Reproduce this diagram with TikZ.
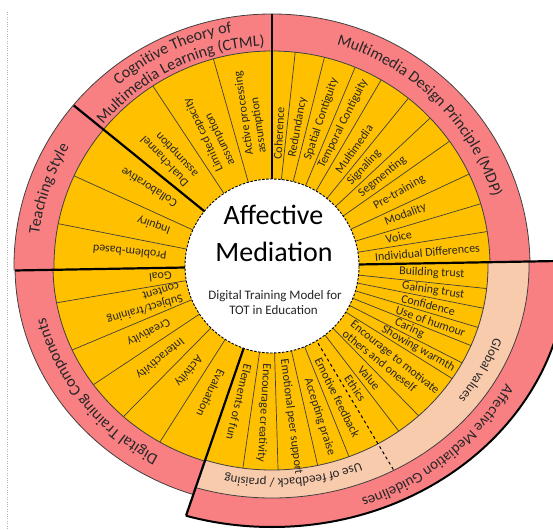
\documentclass[tikz,border=0pt]{standalone}
\usepackage{fontspec}
\setmainfont{Carlito}
\usetikzlibrary{decorations.text}

\definecolor{amgold}{HTML}{FFC000}
\definecolor{amrose}{HTML}{F98082}
\definecolor{ampeach}{HTML}{F8CBAD}
\definecolor{amedge}{HTML}{404040}
\definecolor{amink}{HTML}{262626}

\begin{document}
\begin{tikzpicture}[x=1pt,y=1pt]

\tikzset{
    seg/.style={
        rotate=#1,
        font=\fontsize{12}{13}\selectfont,
        text=amink,
        inner sep=0pt,
        align=left,
    },
    divider/.style={draw=amedge, line width=0.7pt},
    rim/.style={draw=amedge, line width=0.8pt},
    split/.style={draw=black, line width=2.2pt},
    arc label/.style args={#1:#2}{
        decorate,
        decoration={
            text along path,
            text align=center,
            text color=amink,
            text={|\fontsize{#1}{#1}\selectfont|#2}
        }
    },
}

\useasboundingbox (-272,-263) rectangle (281,266);
\clip (-272,-263) rectangle (281,266);

\draw[gray!60, dotted] (-265,254) -- (-265,-263);

% upper half: CTML, teaching style, MDP
\begin{scope}
\clip (0,0) -- (1:600) -- (90:600) -- (181:600) -- cycle;
\filldraw[fill=amrose, rim] (0,0) ellipse [x radius=258, y radius=252];
\fill[amgold] (0,0) ellipse [x radius=218, y radius=215];
\begin{scope}
\clip (0,0) ellipse [x radius=218, y radius=215];
\foreach \a in {83.8,75.9,67.3,59.6,50.9,43.1,35.1,25,16.6,9.1,105.8,123.5,155.5,168.8}
    \draw[divider] (0,0) -- (\a:300);
\end{scope}
\draw[rim] (0,0) ellipse [x radius=218, y radius=215];
\end{scope}

% lower left: digital training components
\begin{scope}
\clip (0,0) -- (181:600) -- (251:600) -- cycle;
\filldraw[fill=amrose, rim] (0,0) ellipse [x radius=257, y radius=240];
\fill[amgold] (0,0) ellipse [x radius=219, y radius=205];
\begin{scope}
\clip (0,0) ellipse [x radius=219, y radius=205];
\foreach \a in {189.7,202.8,213.6,225.4,237.5}
    \draw[divider] (0,0) -- (\a:300);
\end{scope}
\draw[rim] (0,0) ellipse [x radius=219, y radius=205];
\end{scope}

% lower right: guidelines
\begin{scope}
\clip (0,0) -- (251:600) -- (300:600) -- (361:600) -- cycle;
\filldraw[fill=amrose, draw=black, line width=2pt] (0,0) ellipse [x radius=295, y radius=261];
\filldraw[fill=ampeach, rim] (0,0) ellipse [x radius=257, y radius=232];
\fill[amgold] (0,0) ellipse [x radius=216, y radius=204];
\begin{scope}
\clip (0,0) ellipse [x radius=216, y radius=204];
\foreach \a in {354,348.7,343.4,338.2,333,328,314.4,307.5,292,282.9,271.7,261.8}
    \draw[divider] (0,0) -- (\a:300);
\end{scope}
\draw[rim] (0,0) ellipse [x radius=216, y radius=204];
\end{scope}

\draw[split] (0,0) -- (1:300);
\draw[split] (0,0) -- (181:257);
\draw[split] (0,0) -- (90:252);
\draw[split] (0,0) -- (141:255);
\draw[split] (0,0) -- (251:264);
\draw[black, line width=1pt, dashed] (0,0) -- (300.8:238);

\node (hub) [circle, fill=white, draw=black, line width=0.9pt, dash pattern=on 2.5pt off 1.5pt,
    minimum size=174pt, inner sep=0pt] at (0,0) {};
\node (title-a) [anchor=base, font=\fontsize{28}{28}\selectfont, text=black] at (1.5,41) {Affective};
\node (title-b) [anchor=base, font=\fontsize{28}{28}\selectfont, text=black] at (2,4) {Mediation};
\node (sub-a) [anchor=base, font=\fontsize{13}{13}\selectfont, text=amink] at (3,-34) {Digital Training Model for};
\node (sub-b) [anchor=base, font=\fontsize{13}{13}\selectfont, text=amink] at (1.5,-49) {TOT in Education};

% CTML
\node (act) [seg=98] at (98:155) {Active processing\\assumption};
\node (lim) [seg=115] at (115:148) {Limited capacity\\assumption};
\node (dual) [seg=133] at (133:150) {Dual-channel\\assumption};
% teaching style
\node (coll) [seg=147.5] at (147.5:146) {Collaborative};
\node (inq) [seg=161] at (161:125) {Inquiry};
\node (prob) [seg=174.5] at (174.5:143) {Problem-based};
% MDP
\node (coh) [seg=87] at (87:133) {Coherence};
\node (red) [seg=79.5] at (79.5:141) {Redundancy};
\node (spat) [seg=71.5] at (71.5:155) {Spatial Contiguity};
\node (temp) [seg=63.5] at (63.5:159) {Temporal Contiguity};
\node (mm) [seg=55] at (55:143) {Multimedia};
\node (sig) [seg=47] at (47:135) {Signaling};
\node (segm) [seg=39] at (39:142) {Segmenting};
\node (pre) [seg=30] at (30:147) {Pre-training};
\node (mod) [seg=21] at (21:143) {Modality};
\node (voi) [seg=13] at (13:130) {Voice};
\node (ind) [seg=5] at (5:156) {Individual Differences};
% guidelines
\node (build) [seg=357.5] at (357.5:160) {Building trust};
\node (gain) [seg=351.3] at (351.3:163) {Gaining trust};
\node (conf) [seg=346] at (346:161) {Confidence};
\node (hum) [seg=340.8] at (340.8:168) {Use of humour};
\node (car) [seg=335.6] at (335.6:151) {Caring};
\node (warm) [seg=330.5] at (330.5:168) {Showing warmth};
\node (mot) [seg=321.2] at (321.2:153) {Encourage to motivate\\others and oneself};
\node (val) [seg=311] at (311:148) {Value};
\node (eth) [seg=304.2] at (304.2:148) {Ethics};
\node (emot) [seg=296.4] at (296.4:147) {Emotive feedback};
\node (praise) [seg=287.5] at (287.5:158) {Accepting praise};
\node (peer) [seg=277.3] at (277.3:152) {Emotional peer support};
\node (encc) [seg=266.8] at (266.8:147) {Encourage creativity};
\node (fun) [seg=256.4] at (256.4:140) {Elements of fun};
% digital training components
\node (eval) [seg=244.3] at (244.3:141) {Evaluation};
\node (acti) [seg=231.5] at (231.5:134) {Activity};
\node (inter) [seg=219.5] at (219.5:145) {Interactivity};
\node (crea) [seg=208.2] at (208.2:140) {Creativity};
\node (subj) [seg=196.3] at (196.3:134) {Subject/training\\content};
\node (goal) [seg=185.4] at (185.4:112) {Goal};

% ring titles
\path[arc label=16:Cognitive Theory of] (150:237) arc[start angle=150, end angle=80, radius=237];
\path[arc label=16:Multimedia Learning (CTML)] (151:220) arc[start angle=151, end angle=81, radius=220];
\path[arc label=16:Multimedia Design Principle (MDP)] (80:231) arc[start angle=80, end angle=11, radius=231];
\path[arc label=16:Teaching Style] (196:235) arc[start angle=196, end angle=126, radius=235];
\path[arc label=16:Digital Training Components] (252:233 and 218) arc[start angle=252, end angle=182, x radius=233, y radius=218];
\path[arc label=15:Affective Mediation Guidelines] (346:266 and 247) arc[start angle=346, end angle=276, x radius=266, y radius=247];
\path[arc label=13:Global values] (367:236 and 215) arc[start angle=367, end angle=297, x radius=236, y radius=215];
\path[arc label=13:Use of feedback / praising] (310:232 and 213) arc[start angle=310, end angle=241, x radius=232, y radius=213];

\end{tikzpicture}
\end{document}
